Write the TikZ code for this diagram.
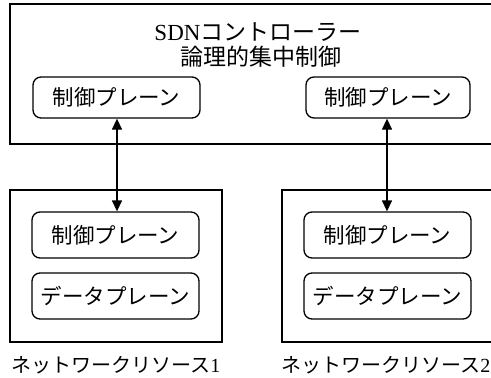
\documentclass[tikz,border=0pt]{standalone}
\usepackage{fontspec}
\setmainfont{Liberation Serif}
\newfontfamily\jp{Noto Sans CJK JP}
\usetikzlibrary{arrows.meta}
\tikzset{
  frame/.style={draw, line width=1.3pt, minimum width=#1},
  plane/.style={draw, line width=1.3pt, rounded corners=8pt, minimum width=167pt, inner sep=0pt, font=\fontsize{21.5}{24}\jp},
  lbl/.style={inner sep=0pt, font=\fontsize{20}{24}\selectfont},
  link/.style={line width=1.3pt, {Triangle[length=11pt,width=10pt]}-{Triangle[length=11pt,width=10pt]}}
}
\begin{document}
\begin{tikzpicture}[x=1pt,y=-1pt]
\useasboundingbox (0,0) rectangle (491,378);
\clip (0,0) rectangle (491,378);
\fill[white] (0,0) rectangle (491,378);
% controller
\node[frame=510pt, minimum height=140pt] (ctrl) at (265,74) {};
\node[lbl, font=\fontsize{23}{26}\selectfont] (title1) at (258,32) {SDN{\jp コントローラー}};
\node[lbl, font=\fontsize{23}{26}\jp] (title2) at (261,57) {論理的集中制御};
\node[plane, minimum height=41pt] (tc1) at (116.5,97.5) {制御プレーン};
\node[plane, minimum height=41pt, minimum width=164pt] (tc2) at (388,97.5) {制御プレーン};
% resources
\node[frame=212pt, minimum height=152pt] (res1) at (116,266) {};
\node[frame=212pt, minimum height=152pt] (res2) at (388,266) {};
\node[plane, minimum height=46pt] (bc1) at (115.5,235) {制御プレーン};
\node[plane, minimum height=46pt] (bd1) at (115.5,296) {データプレーン};
\node[plane, minimum height=46pt] (bc2) at (387.5,235) {制御プレーン};
\node[plane, minimum height=46pt] (bd2) at (387.5,296) {データプレーン};
\node[lbl] (name1) at (116,365) {{\jp ネットワークリソース}1};
\node[lbl] (name2) at (386,365) {{\jp ネットワークリソース}2};
% links
\draw[link] (tc1.south -| 117,0) -- (bc1.north -| 117,0);
\draw[link] (tc2.south -| 387,0) -- (bc2.north -| 387,0);
\end{tikzpicture}
\end{document}
